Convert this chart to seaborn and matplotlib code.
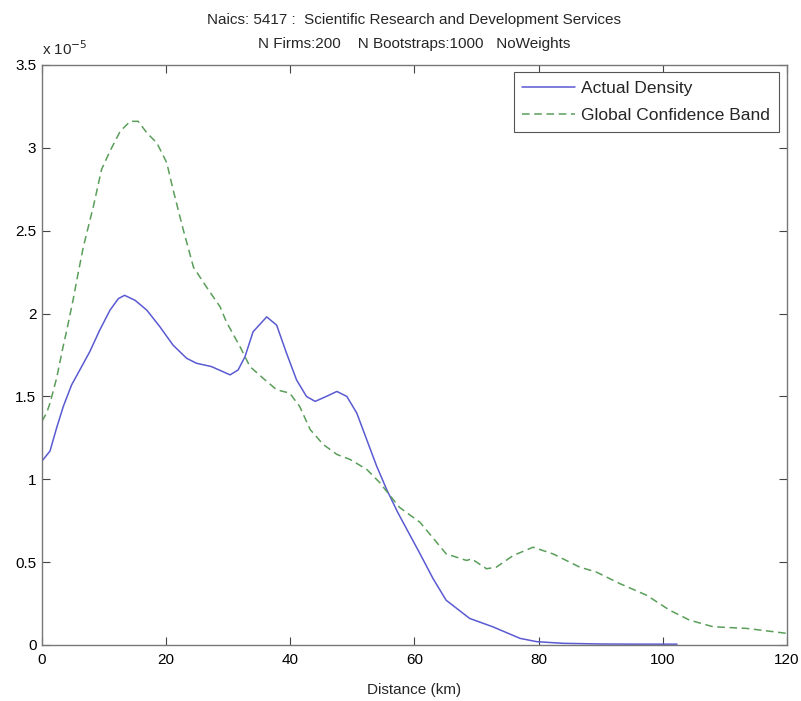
import matplotlib
matplotlib.use("Agg")
import matplotlib.pyplot as plt
import seaborn as sns
import pandas as pd

# Actual density (units of 1e-5)
actual_x = [0, 1.29, 2.36, 3.44, 4.78, 6.1, 7.7, 9.3, 10.95, 12.3, 13.3, 15.0, 16.9, 19.0, 21.1,
            23.3, 24.9, 27.3, 30.3, 31.6, 32.7, 34.0, 36.2, 37.8, 39.4, 41.0, 42.6, 44.0, 45.8,
            47.5, 49.1, 50.7, 52.3, 53.9, 55.5, 57.3, 60.9, 63.0, 65.1, 68.9, 72.6, 77.0, 79.7,
            84, 90, 96, 102.3]
actual_y = [1.11, 1.17, 1.31, 1.44, 1.57, 1.66, 1.77, 1.90, 2.02, 2.09, 2.11, 2.08, 2.02, 1.92, 1.81,
            1.73, 1.70, 1.68, 1.63, 1.66, 1.74, 1.89, 1.98, 1.93, 1.76, 1.60, 1.50, 1.47, 1.50,
            1.53, 1.50, 1.40, 1.24, 1.08, 0.94, 0.80, 0.55, 0.40, 0.27, 0.16, 0.11, 0.04, 0.02,
            0.01, 0.006, 0.005, 0.005]

# Global confidence band (units of 1e-5)
band_x = [0, 0.75, 1.3, 2.36, 3.4, 4.0, 5.0, 5.6, 6.65, 8.3, 9.6, 10.95, 12.6, 14.2, 15.5, 16.9,
          18.5, 20.1, 21.1, 22.8, 24.4, 26.5, 28.7, 29.7, 31.9, 33.5, 35.6, 37.8, 39.9, 41.5,
          43.2, 45.3, 47.5, 49.6, 52.3, 54.4, 56.3, 57.6, 60.9, 65.1, 68.4, 69.2, 71.6, 73.2,
          75.9, 79.1, 82.3, 86.6, 89.3, 93.1, 97.4, 101.1, 104.3, 108.1, 113.5, 120]
band_y = [1.35, 1.40, 1.46, 1.61, 1.80, 1.90, 2.08, 2.20, 2.40, 2.65, 2.87, 2.98, 3.10, 3.16, 3.16, 3.09,
          3.03, 2.91, 2.75, 2.50, 2.28, 2.16, 2.04, 1.95, 1.80, 1.68, 1.61, 1.54, 1.52, 1.44,
          1.30, 1.21, 1.15, 1.12, 1.06, 0.98, 0.89, 0.83, 0.74, 0.55, 0.51, 0.52, 0.46, 0.47,
          0.54, 0.59, 0.55, 0.47, 0.44, 0.37, 0.30, 0.21, 0.15, 0.11, 0.10, 0.07]

x_ticks = [0, 20, 40, 60, 80, 100, 120]
y_ticks = [0, 0.5, 1, 1.5, 2, 2.5, 3, 3.5]
y_labels = ["0", "0.5", "1", "1.5", "2", "2.5", "3", "3.5"]

sns.set_style("white")
plt.rcParams['font.family'] = ['Liberation Sans', 'DejaVu Sans']

fig = plt.figure(figsize=(8.01, 7.01), dpi=100)
ax = fig.add_axes([0.0524, 0.0799, 0.9301, 0.8274])

df_a = pd.DataFrame({"x": actual_x, "y": actual_y})
df_b = pd.DataFrame({"x": band_x, "y": band_y})
sns.lineplot(data=df_a, x="x", y="y", ax=ax, color="#5a5ad2", linewidth=1.1,
             label="Actual Density", sort=False)
sns.lineplot(data=df_b, x="x", y="y", ax=ax, color="#5a9e5a", linewidth=1.1,
             linestyle=(0, (5, 3)), label="Global Confidence Band", sort=False)

ax.set_xlim(0, 120)
ax.set_ylim(0, 3.5)
ax.set_xticks(x_ticks)
ax.set_xticklabels([str(t) for t in x_ticks])
ax.set_yticks(y_ticks)
ax.set_yticklabels(y_labels)
ax.tick_params(direction="in", length=6, width=0.8, colors="#444444", labelcolor="black",
               labelsize=11, top=True, right=True, bottom=True, left=True)
ax.tick_params(axis="x", pad=6)
ax.tick_params(axis="y", pad=4)
for s in ax.spines.values():
    s.set_color("#777777")
    s.set_linewidth(1.0)
ax.set_xlabel("Distance (km)", fontsize=11, labelpad=11)
ax.set_ylabel("")
ax.text(0.0, 1.012, r"x 10$^{-5}$", transform=ax.transAxes, fontsize=11, ha="left", va="bottom")
ax.set_title("Naics: 5417 :  Scientific Research and Development Services\n"
             "N Firms:200    N Bootstraps:1000   NoWeights", fontsize=11, pad=12.5, linespacing=1.9)

leg = ax.legend(loc="upper right", fontsize=12.5, frameon=True, fancybox=False,
                edgecolor="#555555", framealpha=1, handlelength=3.0, handletextpad=0.4,
                borderpad=0.5, labelspacing=0.7, borderaxespad=0,
                bbox_to_anchor=(0.9893, 0.988))
leg.get_frame().set_linewidth(0.8)

fig.savefig("out.png", dpi=100)
